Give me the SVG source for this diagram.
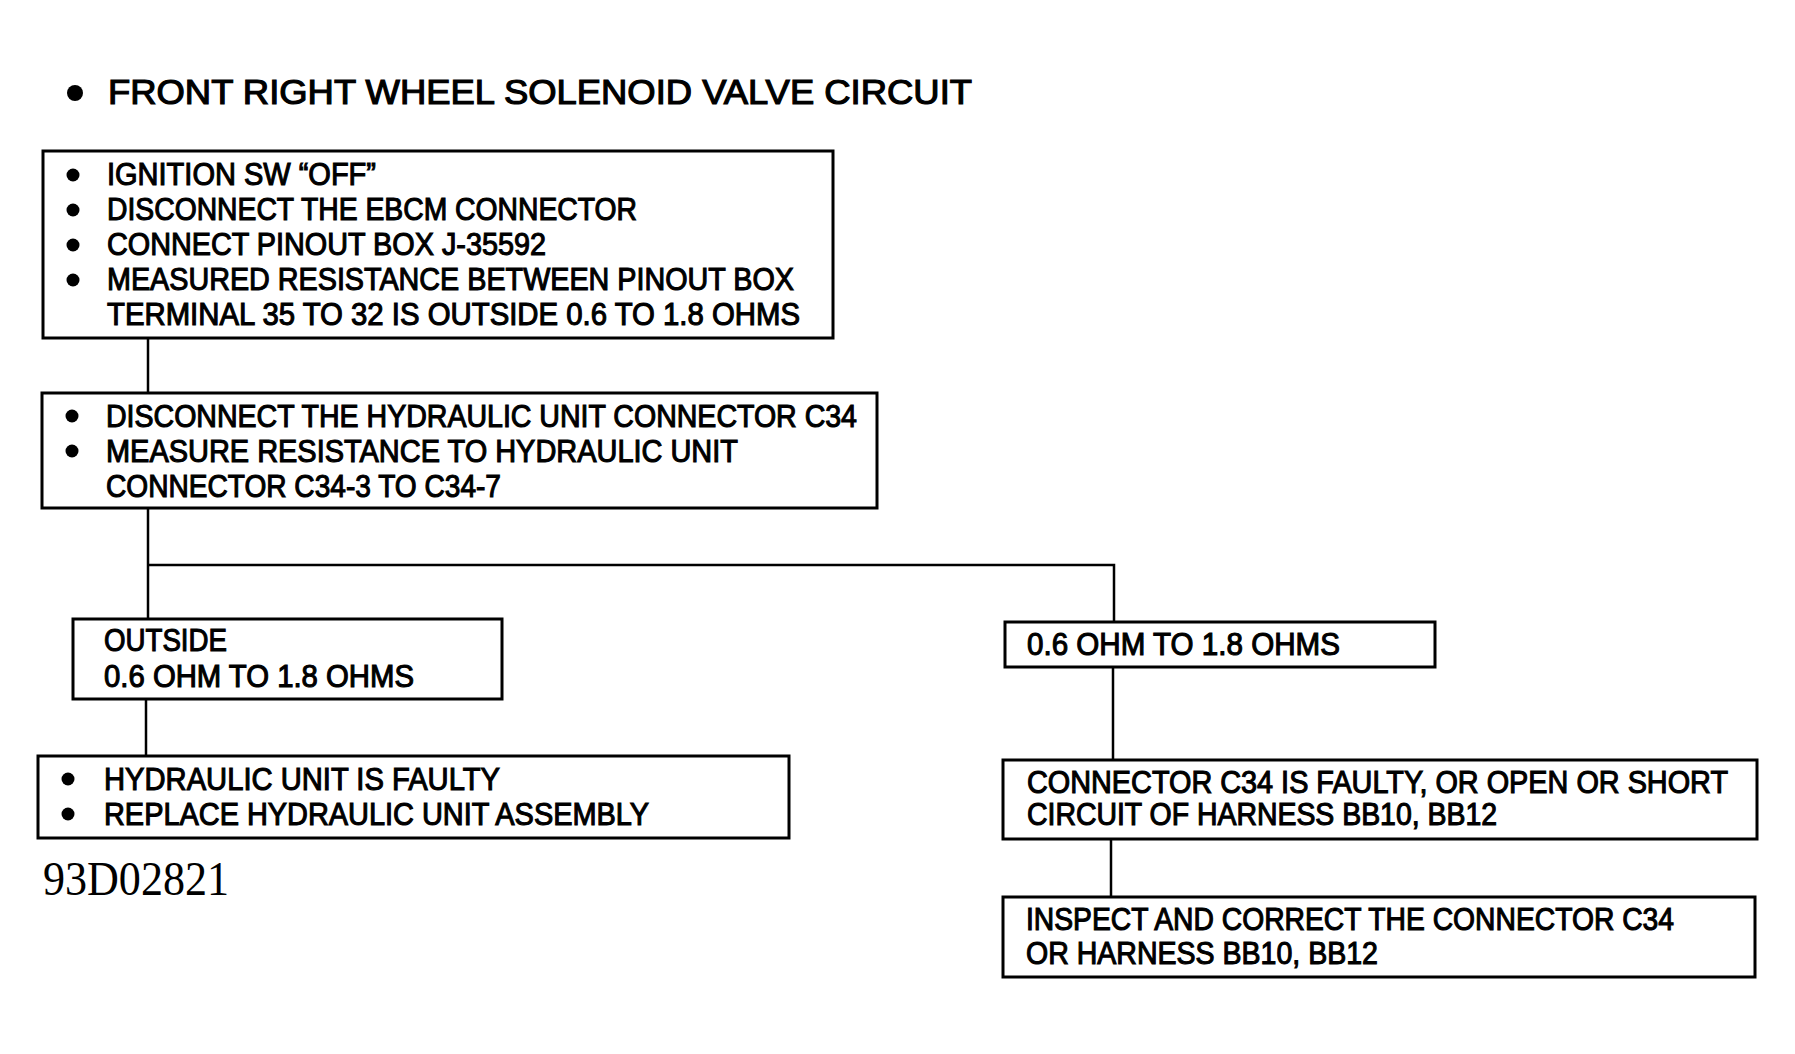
<svg xmlns="http://www.w3.org/2000/svg" width="1795" height="1054" viewBox="0 0 1795 1054">
<style>
.box{fill:#fff;stroke:#000;stroke-width:3}
.t{font-family:"Liberation Sans",Arial,sans-serif;font-size:31px;fill:#000;stroke:#000;stroke-width:1.1}
.title{font-family:"Liberation Sans",Arial,sans-serif;font-size:35px;fill:#000;stroke:#000;stroke-width:1.2}
.code{font-family:"Liberation Serif","Times New Roman",serif;font-size:48px;fill:#000}
.b{fill:#000}
.c{stroke:#000;stroke-width:2.5;fill:none}
</style>
<rect width="1795" height="1054" fill="#fff"/>
<g id="title">
<circle class="b" cx="75" cy="93" r="8"/>
<text class="title" x="108" y="104" textLength="864" lengthAdjust="spacingAndGlyphs">FRONT RIGHT WHEEL SOLENOID VALVE CIRCUIT</text>
</g>
<g id="connectors">
<path class="c" d="M148,338 V393"/>
<path class="c" d="M148,508 V619"/>
<path class="c" d="M148,565 H1114 V622"/>
<path class="c" d="M146,699 V756"/>
<path class="c" d="M1113,667 V760"/>
<path class="c" d="M1111,839 V897"/>
</g>
<g id="box1">
<rect class="box" x="43" y="151" width="790" height="187"/>
<circle class="b" cx="73" cy="175" r="6.5"/>
<circle class="b" cx="73" cy="210" r="6.5"/>
<circle class="b" cx="73" cy="245" r="6.5"/>
<circle class="b" cx="73" cy="280" r="6.5"/>
<text class="t" x="107" y="185" textLength="269" lengthAdjust="spacingAndGlyphs">IGNITION SW “OFF”</text>
<text class="t" x="107" y="220" textLength="530" lengthAdjust="spacingAndGlyphs">DISCONNECT THE EBCM CONNECTOR</text>
<text class="t" x="107" y="255" textLength="439" lengthAdjust="spacingAndGlyphs">CONNECT PINOUT BOX J-35592</text>
<text class="t" x="107" y="290" textLength="687" lengthAdjust="spacingAndGlyphs">MEASURED RESISTANCE BETWEEN PINOUT BOX</text>
<text class="t" x="107" y="325" textLength="693" lengthAdjust="spacingAndGlyphs">TERMINAL 35 TO 32 IS OUTSIDE 0.6 TO 1.8 OHMS</text>
</g>
<g id="box2">
<rect class="box" x="42" y="393" width="835" height="115"/>
<circle class="b" cx="72" cy="416" r="6.5"/>
<circle class="b" cx="72" cy="451" r="6.5"/>
<text class="t" x="106" y="427" textLength="751" lengthAdjust="spacingAndGlyphs">DISCONNECT THE HYDRAULIC UNIT CONNECTOR C34</text>
<text class="t" x="106" y="462" textLength="632" lengthAdjust="spacingAndGlyphs">MEASURE RESISTANCE TO HYDRAULIC UNIT</text>
<text class="t" x="106" y="497" textLength="395" lengthAdjust="spacingAndGlyphs">CONNECTOR C34-3 TO C34-7</text>
</g>
<g id="box3">
<rect class="box" x="73" y="619" width="429" height="80"/>
<text class="t" x="104" y="651" textLength="123" lengthAdjust="spacingAndGlyphs">OUTSIDE</text>
<text class="t" x="104" y="687" textLength="310" lengthAdjust="spacingAndGlyphs">0.6 OHM TO 1.8 OHMS</text>
</g>
<g id="box4">
<rect class="box" x="38" y="756" width="751" height="82"/>
<circle class="b" cx="68" cy="779" r="6.5"/>
<circle class="b" cx="68" cy="814" r="6.5"/>
<text class="t" x="104" y="790" textLength="396" lengthAdjust="spacingAndGlyphs">HYDRAULIC UNIT IS FAULTY</text>
<text class="t" x="104" y="825" textLength="545" lengthAdjust="spacingAndGlyphs">REPLACE HYDRAULIC UNIT ASSEMBLY</text>
</g>
<g id="code">
<text class="code" x="43" y="895" textLength="186" lengthAdjust="spacingAndGlyphs">93D02821</text>
</g>
<g id="box5">
<rect class="box" x="1005" y="622" width="430" height="45"/>
<text class="t" x="1027" y="655" textLength="313" lengthAdjust="spacingAndGlyphs">0.6 OHM TO 1.8 OHMS</text>
</g>
<g id="box6">
<rect class="box" x="1003" y="760" width="754" height="79"/>
<text class="t" x="1027" y="793" textLength="701" lengthAdjust="spacingAndGlyphs">CONNECTOR C34 IS FAULTY, OR OPEN OR SHORT</text>
<text class="t" x="1027" y="825" textLength="470" lengthAdjust="spacingAndGlyphs">CIRCUIT OF HARNESS BB10, BB12</text>
</g>
<g id="box7">
<rect class="box" x="1003" y="897" width="752" height="80"/>
<text class="t" x="1026" y="930" textLength="648" lengthAdjust="spacingAndGlyphs">INSPECT AND CORRECT THE CONNECTOR C34</text>
<text class="t" x="1026" y="964" textLength="352" lengthAdjust="spacingAndGlyphs">OR HARNESS BB10, BB12</text>
</g>
</svg>
